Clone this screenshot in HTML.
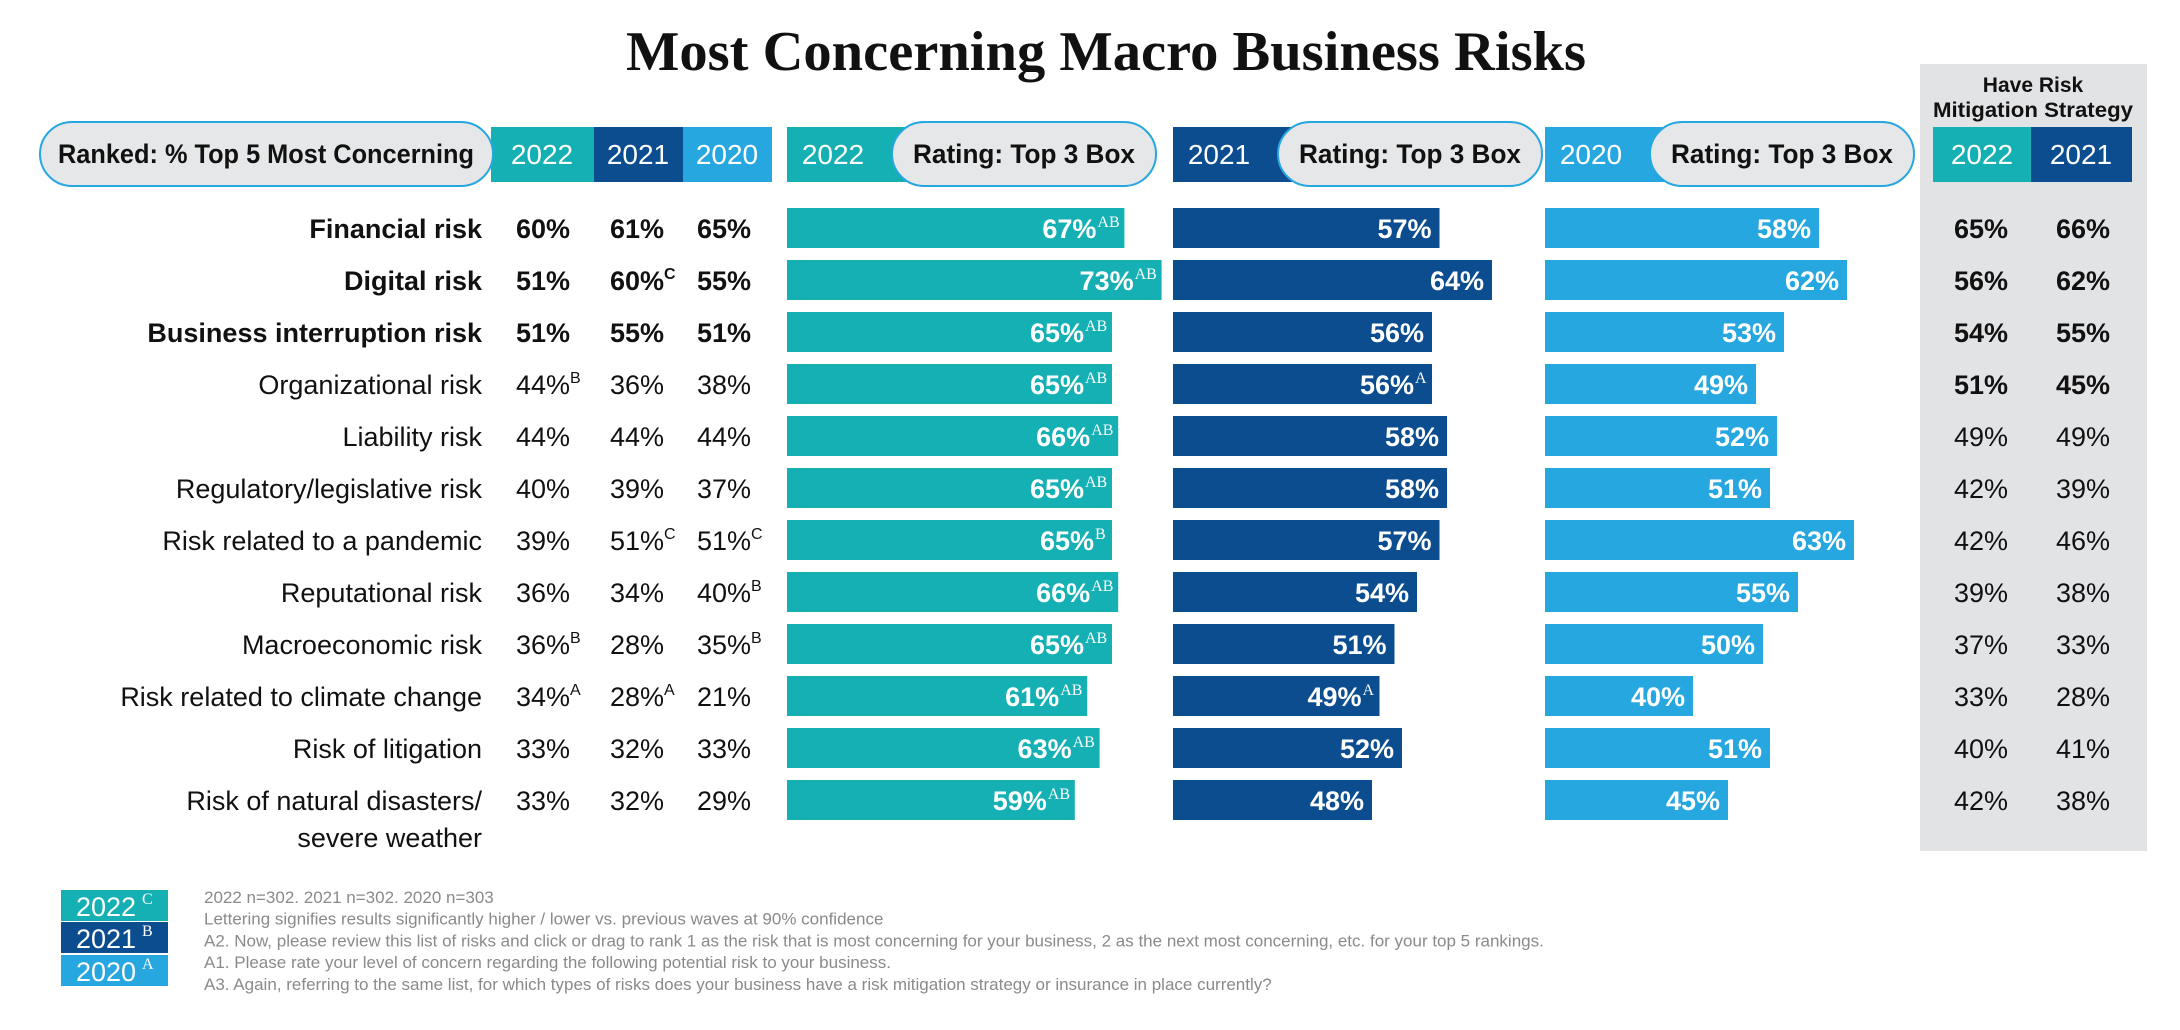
<!DOCTYPE html>
<html><head><meta charset="utf-8"><style>
html,body{margin:0;padding:0;background:#fff;}
svg{display:block;font-family:"Liberation Sans Narrow","Liberation Sans",sans-serif;}
</style></head><body>
<svg id="c" width="2180" height="1030" viewBox="0 0 2180 1030" xmlns="http://www.w3.org/2000/svg">
<text x="1106" y="70" text-anchor="middle" font-family="Liberation Serif,serif" font-weight="bold" font-size="56" fill="#111" textLength="960" lengthAdjust="spacingAndGlyphs">Most Concerning Macro Business Risks</text>
<rect x="1920" y="64" width="227" height="787" fill="#e2e3e5"/>
<text x="2033" y="92" text-anchor="middle" font-weight="bold" font-size="21" fill="#111">Have Risk</text>
<text x="2033" y="117" text-anchor="middle" font-weight="bold" font-size="21" fill="#111" textLength="200" lengthAdjust="spacingAndGlyphs">Mitigation Strategy</text>
<g id="hdr"></g>
<g id="rows"></g>
<g id="legend"></g>
</svg>
<script>
const risks=["Financial risk","Digital risk","Business interruption risk","Organizational risk","Liability risk","Regulatory/legislative risk","Risk related to a pandemic","Reputational risk","Macroeconomic risk","Risk related to climate change","Risk of litigation","Risk of natural disasters/"];
const boldRows=[true,true,true,false,false,false,false,false,false,false,false,false];
const rank2022=[60,51,51,44,44,40,39,36,36,34,33,33];
const rank2022Sup=["","","","B","","","","","B","A","",""];
const rank2021=[61,60,55,36,44,39,51,34,28,28,32,32];
const rank2021Sup=["","C","","","","","C","","","A","",""];
const rank2020=[65,55,51,38,44,37,51,40,35,21,33,29];
const rank2020Sup=["","","","","","","C","B","B","","",""];
const top2022=[67,73,65,65,66,65,65,66,65,61,63,59];
const top2022Sup=["AB","AB","AB","AB","AB","AB","B","AB","AB","AB","AB","AB"];
const top2021=[57,64,56,56,58,58,57,54,51,49,52,48];
const top2021Sup=["","","","A","","","","","","A","",""];
const top2020=[58,62,53,49,52,51,63,55,50,40,51,45];
const top2020Sup=["","","","","","","","","","","",""];
const mit2022=[65,56,54,51,49,42,42,39,37,33,40,42];
const mit2021=[66,62,55,45,49,39,46,38,33,28,41,38];

const NS="http://www.w3.org/2000/svg";
const TEAL="#14b0b4",DARK="#0b4d8e",LIGHT="#27a7e0";
function mk(tag,attrs,parent,txt){const e=document.createElementNS(NS,tag);for(const k in attrs)e.setAttribute(k,attrs[k]);if(txt!==undefined)e.textContent=txt;parent.appendChild(e);return e;}
const rowY=i=>208+i*52;
const panels=[
 {left:787,x0:709,k:6.2,color:TEAL,vals:top2022,sups:top2022Sup,name:"2022"},
 {left:1173,x0:1012,k:7.5,color:DARK,vals:top2021,sups:top2021Sup,name:"2021"},
 {left:1545,x0:1413,k:7.0,color:LIGHT,vals:top2020,sups:top2020Sup,name:"2020"}];
const hdr=document.getElementById('hdr'),rows=document.getElementById('rows'),lg=document.getElementById('legend');

let e;
e=mk('rect',{x:491,y:127,width:103,height:55,fill:TEAL},hdr);

e=mk('rect',{x:594,y:127,width:89,height:55,fill:DARK},hdr);

e=mk('rect',{x:683,y:127,width:89,height:55,fill:LIGHT},hdr);

[["2022",542],["2021",638],["2020",727]].forEach(([t,x])=>{e=mk('text',{x:x,y:164,'text-anchor':'middle','font-size':28,fill:'#fff'},hdr,t);});
e=mk('rect',{x:40,y:122,width:453,height:64,rx:32,fill:'#e6e7e8',stroke:'#27a7e0','stroke-width':2},hdr);

e=mk('text',{x:266,y:163,'text-anchor':'middle','font-size':27,'font-weight':'bold',fill:'#111',textLength:416,lengthAdjust:'spacingAndGlyphs'},hdr,"Ranked: % Top 5 Most Concerning");


panels.forEach((p,pi)=>{
 e=mk('rect',{x:p.left,y:127,width:120,height:55,fill:p.color},hdr);
 
 e=mk('text',{x:p.left+46,y:164,'text-anchor':'middle','font-size':28,fill:'#fff'},hdr,p.name);
 
 e=mk('rect',{x:p.left+105,y:122,width:264,height:64,rx:32,fill:'#e6e7e8',stroke:'#27a7e0','stroke-width':2},hdr);
 
 e=mk('text',{x:p.left+237,y:163,'text-anchor':'middle','font-size':27,'font-weight':'bold',fill:'#111',textLength:222,lengthAdjust:'spacingAndGlyphs'},hdr,"Rating: Top 3 Box");
 
});
e=mk('rect',{x:1933,y:127,width:98,height:55,fill:TEAL},hdr);

e=mk('rect',{x:2031,y:127,width:101,height:55,fill:DARK},hdr);

[["2022",1982],["2021",2081]].forEach(([t,x])=>{e=mk('text',{x:x,y:164,'text-anchor':'middle','font-size':28,fill:'#fff'},hdr,t);});

function valText(parent,x,y,v,sup,anchor,opts){
 const t=mk('text',Object.assign({x:x,y:y,'text-anchor':anchor,'font-size':27},opts),parent);
 mk('tspan',{},t,v+"%");
 if(sup){mk('tspan',{'font-size':16,dy:-11},t,sup);}
 return t;
}
risks.forEach((r,i)=>{
 const cy=rowY(i)+20,by=cy+10;
 e=mk('text',{x:482,y:by,'text-anchor':'end','font-size':27,'font-weight':boldRows[i]?'bold':'normal',fill:'#111'},rows,r);
 
 if(i===risks.length-1){e=mk('text',{x:482,y:by+37,'text-anchor':'end','font-size':27,fill:'#111'},rows,"severe weather");
  }
 [[rank2022,rank2022Sup,516],[rank2021,rank2021Sup,610],[rank2020,rank2020Sup,697]].forEach(([arr,sa,x])=>{
  e=valText(rows,x,by,arr[i],sa[i],'start',{fill:'#111','font-weight':boldRows[i]?'bold':'normal'});
  
 });
 panels.forEach(p=>{
  const end=p.x0+p.vals[i]*p.k;
  e=mk('rect',{x:p.left,y:rowY(i),width:end-p.left,height:40,fill:p.color},rows);
  
  const sup=p.sups[i];
  const tx=end-8-(sup?sup.length*10:0);
  e=valText(rows,tx,by,p.vals[i],'','end',{fill:'#fff','font-weight':'bold'});
  
  if(sup){e=mk('text',{x:tx+1,y:by-11,'font-size':16,fill:'#fff','font-family':'Liberation Serif,serif'},rows,sup);
   }
 });
 const mb=i<4?'bold':'normal';
 e=valText(rows,1954,by,mit2022[i],'','start',{fill:'#111','font-weight':mb});
 
 e=valText(rows,2056,by,mit2021[i],'','start',{fill:'#111','font-weight':mb});
 
});
[["2022","C",TEAL,890],["2021","B",DARK,922],["2020","A",LIGHT,955]].forEach(([y,s,c,top])=>{
 e=mk('rect',{x:61,y:top,width:107,height:31,fill:c},lg);
 
 e=mk('text',{x:76,y:top+26,'font-size':27,fill:'#fff'},lg,y);
 
 e=mk('text',{x:142,y:top+14,'font-size':16,fill:'#fff','font-family':'Liberation Serif,serif'},lg,s);
 
});
["2022 n=302. 2021 n=302. 2020 n=303","Lettering signifies results significantly higher / lower vs. previous waves at 90% confidence","A2. Now, please review this list of risks and click or drag to rank 1 as the risk that is most concerning for your business, 2 as the next most concerning, etc. for your top 5 rankings.","A1. Please rate your level of concern regarding the following potential risk to your business.","A3. Again, referring to the same list, for which types of risks does your business have a risk mitigation strategy or insurance in place currently?"].forEach((t,i)=>{
 e=mk('text',{x:204,y:903+i*21.7,'font-size':17,fill:'#8a8a8a'},lg,t);
 
});
</script>
</body></html>
